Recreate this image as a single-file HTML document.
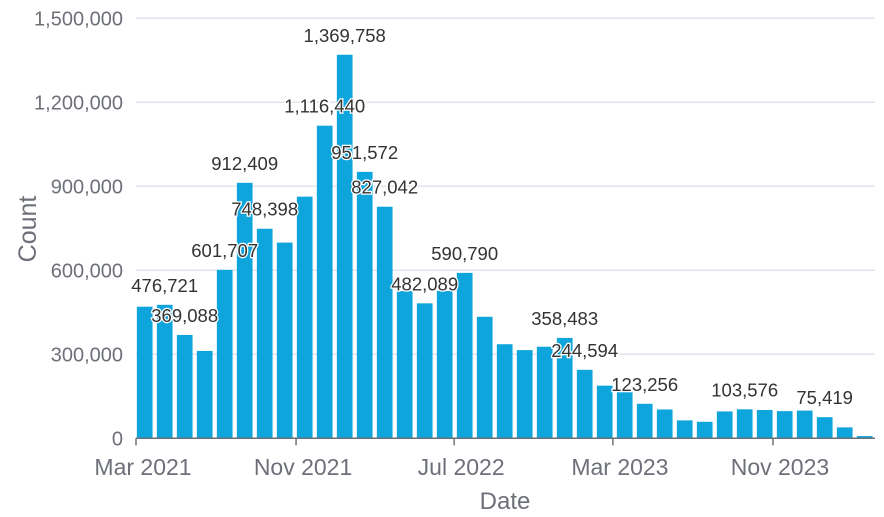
<!DOCTYPE html>
<html><head><meta charset="utf-8"><style>
html,body{margin:0;padding:0;background:#fff;}
svg{display:block;font-family:"Liberation Sans","DejaVu Sans",sans-serif;}
</style></head><body>
<svg id="chart" width="884" height="517" viewBox="0 0 884 517" xmlns="http://www.w3.org/2000/svg">
<g id="grid"></g>
<g id="yaxis"></g>
<g id="bars"></g>
<g id="labels"></g>
<g id="xaxis"></g>
<text x="36" y="229" transform="rotate(-90 36 229)" text-anchor="middle" font-size="25" fill="#6e7079">Count</text>
<text x="505" y="509" text-anchor="middle" font-size="24" fill="#6e7079">Date</text>
</svg>
<script>
const values = [470000,476721,369088,312000,601707,912409,748398,699000,863000,1116440,1369758,951572,827042,526000,482089,526000,590790,434000,336000,315000,327000,358483,244594,188000,166000,123256,103000,64000,59000,96000,103576,101000,97000,99000,75419,39000,8000];
const labeled = [1,2,4,5,6,9,10,11,12,14,16,21,22,25,30,34];
const yTicks = [0,300000,600000,900000,1200000,1500000];
const xTickLabels = ["Mar 2021","Nov 2021","Jul 2022","Mar 2023","Nov 2023"];
const xTickDays = [0,245,487,730,975];

const NS="http://www.w3.org/2000/svg";
const y0=438.3, pxPer=280/1e6, bw=15.7;
function yScale(v){return y0 - v*pxPer;}
function xBar(i){return 144.7 + i*20;}
function xDay(d){return 136 + d*0.6533;}
function mk(tag,attrs,parent){const e=document.createElementNS(NS,tag);for(const k in attrs)e.setAttribute(k,attrs[k]);parent.appendChild(e);return e;}
function fmt(v){return v.toLocaleString('en-US');}

const grid=document.getElementById('grid'), ya=document.getElementById('yaxis');
yTicks.forEach(t=>{
  const y=yScale(t);
  if(t>0){const l=mk('line',{x1:136,x2:875,y1:y,y2:y,stroke:'#e0e6f1','stroke-width':1.5},grid);
  
  }
  const tx=mk('text',{x:123,y:y+7,'text-anchor':'end','font-size':20,fill:'#6e7079'},ya);
  tx.textContent=fmt(t);
  
  
});
const barsG=document.getElementById('bars'), lab=document.getElementById('labels');
values.forEach((val,i)=>{
  const y=yScale(val);
  const r=mk('rect',{x:xBar(i)-bw/2,y:y,width:bw,height:y0-y,fill:'#0ea5dc'},barsG);
  
  
});
labeled.forEach(i=>{
  const t=mk('text',{x:xBar(i),y:yScale(values[i])-13,'text-anchor':'middle','font-size':18.5,fill:'#333',stroke:'#fff','stroke-width':2.5,'paint-order':'stroke'},lab);
  t.textContent=fmt(values[i]);
  
  
});
const xa=document.getElementById('xaxis');
const ax=mk('line',{x1:136,x2:875,y1:y0,y2:y0,stroke:'#6e7079','stroke-width':1.5},xa);


xTickDays.forEach((d,i)=>{
  const x=xDay(d);
  const tk=mk('line',{x1:x,x2:x,y1:y0,y2:y0+7,stroke:'#6e7079','stroke-width':1.5},xa);
  
  
  const t=mk('text',{x:x+7,y:475,'text-anchor':'middle','font-size':23,fill:'#6e7079'},xa);
  t.textContent=xTickLabels[i];
  
  
});
</script>
</body></html>
